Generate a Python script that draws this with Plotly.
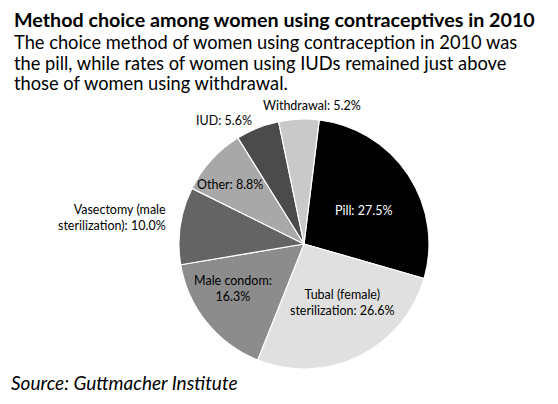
import plotly.graph_objects as go

# data
methods = ["Pill", "Tubal (female) sterilization", "Male condom", "Vasectomy (male sterilization)",
           "Other", "IUD", "Withdrawal"]
shares = [27.5, 26.6, 16.3, 10.0, 8.8, 5.6, 5.2]
label_text = ["Pill: 27.5%", "Tubal (female)<br>sterilization: 26.6%", "Male condom:<br>16.3%",
              "Vasectomy (male<br>sterilization): 10.0%", "Other: 8.8%", "IUD: 5.6%", "Withdrawal: 5.2%"]

# styling / label placement (pixels from top-left of the page)
slice_colors = ["#000000", "#e0e0e0", "#8c8c8c", "#646464", "#a8a8a8", "#4b4b4b", "#c9c9c9"]
text_colors = ["white", "black", "black", "black", "black", "black", "black"]
label_xy = [(363, 210), (343, 302), (233, 288), (168, 217), (230, 185), (224, 120), (312, 105)]
label_anchor = ["center", "center", "center", "right", "center", "center", "center"]

W, H = 558, 404
OFF = 8  # default body margin of the html page
cx, cy, r = 304, 244, 125
FONT = "Lato"


def px(x):
    return (x - OFF) / W


def py(y):
    return 1 - (y - OFF) / H


fig = go.Figure(go.Pie(
    labels=methods, values=shares, textinfo="none",
    sort=False, direction="clockwise", rotation=7,
    marker=dict(colors=slice_colors, line=dict(color="white", width=1.2)),
    hovertemplate="%{label}: %{value}%<extra></extra>",
    domain=dict(x=[px(cx - r), px(cx + r)], y=[py(cy + r), py(cy - r)]),
    showlegend=False,
))

# slice labels
for txt, (lx, ly), anc, col in zip(label_text, label_xy, label_anchor, text_colors):
    fig.add_annotation(text=txt, x=px(lx), y=py(ly), xref="paper", yref="paper",
                       xanchor=anc, yanchor="middle", align=anc, showarrow=False,
                       font=dict(family=FONT, size=12.5, color=col))

fig.add_annotation(text="<b>Method choice among women using contraceptives in 2010</b>",
                   x=px(12), y=py(19), xref="paper", yref="paper", xanchor="left", yanchor="middle",
                   showarrow=False, font=dict(family=FONT, size=19.7, color="black"))

subtitle = ["The choice method of women using contraception in 2010 was",
            "the pill, while rates of women using IUDs remained just above",
            "those of women using withdrawal."]
for k, ln in enumerate(subtitle):
    fig.add_annotation(text=ln, x=px(12), y=py(42 + k * 20.5), xref="paper", yref="paper",
                       xanchor="left", yanchor="middle", showarrow=False,
                       font=dict(family=FONT, size=18.3, color="black"))

fig.add_annotation(text="<i>Source: Guttmacher Institute</i>",
                   x=px(9), y=py(382), xref="paper", yref="paper", xanchor="left", yanchor="middle",
                   showarrow=False, font=dict(family=FONT, size=19, color="black"))

fig.update_layout(width=W, height=H, margin=dict(l=0, r=0, t=0, b=0),
                  paper_bgcolor="white", plot_bgcolor="white")
fig.write_html("out.html")
